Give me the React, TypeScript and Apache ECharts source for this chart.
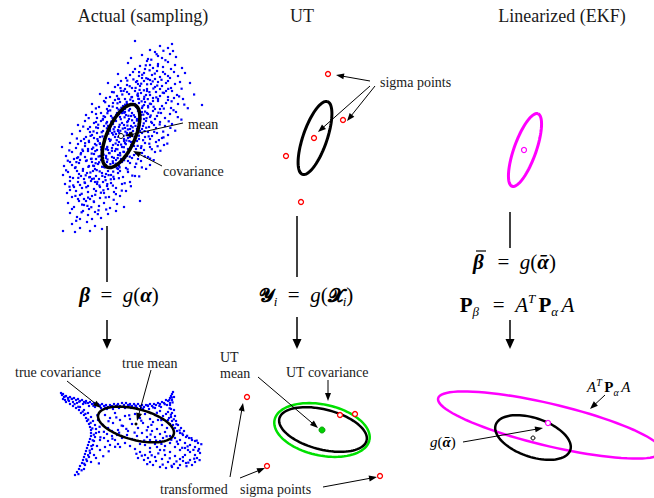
import React, { useEffect, useRef } from "react";
import * as echarts from "echarts";

// ---------- DATA (pixel-like diagram coordinates, y grows downward) ----------
const actualCloud: number[][] = [
  [135,41],[160,46],[168,48],[172,44],[150,50],
  [142,55],[155,52],[162,58],[170,54],[176,57],[148,59],[158,56],[131,58],[173,51],
  [128,63],[140,66],[147,61],[153,68],[158,64],[163,67],[168,62],[175,65],[135,69],[150,65],[171,69],[182,68],[145,69],
  [118,74],[126,78],[133,72],[139,76],[144,73],[148,79],[152,75],[157,71],[160,77],[165,74],[170,78],[174,72],[178,76],[130,75],[142,78],[155,79],[163,72],[168,76],[185,73],
  [108,83],[115,87],[121,81],[127,85],[132,88],[136,82],[140,86],[144,81],[147,89],[151,84],[155,87],[158,82],[162,86],[166,83],[171,88],[175,84],[180,82],[190,83],[125,89],[138,84],[150,80],[160,89],[168,81],[118,85],
  [100,94],[106,98],[112,92],[117,96],[121,91],[125,99],[129,94],[132,97],[135,91],[138,96],[141,93],[144,99],[147,91],[150,95],[153,98],[156,92],[160,96],[164,93],[168,97],[172,91],[177,95],[183,99],[119,99],[127,92],[139,99],[146,95],[158,99],[166,91],[110,97],[174,98],
  [92,104],[99,107],[104,101],[109,106],[113,103],[117,108],[120,102],[123,106],[127,104],[130,109],[133,101],[136,107],[139,103],[142,108],[145,102],[148,106],[151,104],[155,109],[158,101],[162,106],[166,103],[171,108],[178,104],[202,105],[115,100],[125,109],[135,104],[144,105],[153,101],[160,109],[107,109],[168,100],
  [86,115],[92,112],[97,118],[101,113],[105,117],[108,111],[111,116],[114,119],[117,113],[120,117],[123,111],[126,115],[129,119],[132,113],[135,117],[138,111],[141,115],[144,119],[147,113],[150,117],[153,111],[157,116],[161,113],[165,118],[170,114],[176,112],[103,119],[119,114],[131,116],[142,112],[155,119],[96,114],[125,112],[137,119],[148,114],
  [78,125],[85,121],[90,127],[94,123],[98,128],[101,121],[104,126],[107,122],[110,129],[113,124],[116,121],[119,127],[122,123],[125,128],[128,121],[131,126],[134,123],[137,129],[140,122],[143,126],[146,121],[149,127],[152,123],[156,128],[160,122],[165,126],[172,124],[96,122],[108,126],[118,130],[130,129],[142,129],[88,129],[154,125],[124,125],
  [72,134],[80,131],[86,137],[90,132],[94,138],[97,133],[100,137],[103,131],[106,136],[109,139],[112,133],[115,137],[118,131],[121,135],[124,139],[127,133],[130,137],[133,131],[136,136],[139,139],[142,133],[145,137],[148,132],[152,136],[157,133],[162,138],[168,135],[92,135],[104,139],[116,134],[128,138],[140,131],[84,139],[150,139],[110,131],
  [62,147],[70,143],[76,148],[81,141],[85,146],[89,142],[92,149],[95,144],[98,141],[101,147],[104,143],[107,148],[110,141],[113,145],[116,149],[119,142],[122,147],[125,143],[128,149],[131,142],[134,146],[137,141],[141,148],[145,143],[150,147],[156,142],[164,145],[88,149],[100,144],[112,148],[124,141],[136,149],[78,144],[118,145],
  [66,156],[72,152],[77,158],[81,153],[85,157],[88,151],[91,159],[94,154],[97,150],[100,156],[103,152],[106,158],[109,153],[112,157],[115,151],[118,155],[121,159],[124,152],[127,156],[130,150],[134,155],[138,159],[142,153],[148,157],[155,152],[83,151],[96,159],[108,150],[120,153],[132,158],[74,159],[144,150],
  [64,166],[70,162],[75,168],[79,163],[83,169],[86,161],[89,166],[92,162],[95,169],[98,164],[101,160],[104,167],[107,162],[110,168],[113,163],[116,160],[119,166],[122,162],[126,168],[130,163],[135,167],[141,161],[150,165],[80,160],[94,166],[106,165],[118,169],[72,165],[128,161],
  [63,175],[68,172],[73,178],[77,171],[81,176],[84,179],[87,173],[90,177],[93,171],[96,176],[99,179],[102,173],[105,177],[108,171],[111,175],[114,179],[118,173],[123,177],[128,172],[135,176],[79,174],[92,179],[106,174],[120,171],[70,177],
  [65,184],[70,181],[74,187],[78,182],[82,188],[85,183],[88,186],[91,181],[94,189],[97,184],[100,187],[103,182],[107,186],[111,183],[116,188],[122,184],[130,182],[80,185],[95,182],[108,189],
  [67,193],[72,197],[76,191],[80,195],[84,199],[88,192],[92,196],[96,191],[100,198],[104,193],[109,197],[114,192],[120,196],[126,191],[78,199],[90,199],[70,190],
  [68,203],[74,207],[79,201],[84,205],[89,209],[94,202],[99,206],[104,203],[110,208],[117,204],[140,201],[86,201],[72,209],[124,207],
  [70,213],[77,217],[83,211],[88,215],[95,212],[101,218],[108,214],[116,211],[80,219],[92,219],
  [63,231],[72,224],[80,228],[87,222],[95,226],[102,229],[75,232],[90,231]
];

const actualCloudExtra: number[][] = [
  [131.5,97.2],[137.8,93.6],[144.3,96.8],[126.7,101.9],[134.2,104.4],[141.6,101.3],[149.9,103.7],[121.4,107.8],[128.9,110.5],[137.3,108.1],[145.1,111.6],[116.2,114.9],[124.6,117.3],[133.8,115.2],[140.4,118.7],[150.7,115.5],[111.3,121.6],[119.7,124.8],[127.2,122.1],[135.5,125.9],[143.8,123.4],[106.9,128.3],[114.4,131.7],[122.8,128.6],[130.1,132.9],[138.6,130.2],[146.2,127.7],[102.5,136.4],[110.7,139.8],[118.3,136.9],[126.4,140.5],[134.7,137.1],[99.8,143.2],[107.2,146.9],[115.6,143.5],[123.9,147.2],[131.3,144.8],[95.3,151.1],[103.7,154.6],[111.9,150.8],[120.2,155.3],[128.5,152.4],[91.6,158.7],[99.1,162.3],[107.5,159.5],[115.8,163.8],[124.1,160.2],[88.4,166.9],[96.7,170.1],[104.9,167.4],[113.2,171.6],[85.7,175.3],[93.9,178.6],[102.3,175.9],
  [153.4,88.5],[147.1,84.3],[139.6,89.9],[162.8,92.7],[156.3,97.4],[129.7,86.2],[122.3,94.5],[117.5,103.3],[110.2,110.4],[103.6,116.2],[98.2,124.7],[93.5,131.4],[88.9,140.8],[82.4,149.6],[78.1,157.3],[75.6,167.2],[73.2,185.4],[81.7,193.8],[86.3,187.2],[99.4,185.5],[110.8,179.3],[118.9,178.2],[127.6,169.4],[136.2,163.7],[144.7,156.3],[151.8,149.2],[158.9,140.1],[163.2,131.6],[168.7,121.3],[173.5,110.2],[179.1,96.4],[181.6,88.7],
  [142.2,74.8],[149.6,70.3],[157.9,66.1],[165.4,60.2],[137.1,81.1],[127.3,80.6],[120.5,88.1],[113.8,92.3],[105.2,102.2],[95.9,108.4],[88.7,118.1],[83.2,126.6],[76.9,138.5],[69.3,150.4],[67.8,160.7],[66.1,170.3],[69.5,186.7],[75.4,195.9],[82.1,204.6],[91.3,207.2],[97.8,214.1],[106.2,209.5],[113.7,199.8],[121.8,190.6],[130.9,186.2],[139.2,176.4],[146.1,168.9],[153.7,160.1],[160.4,150.8],[167.3,143.6],[175.2,130.7],[181.4,119.6],[187.8,108.2],[194.1,94.5],
  [119.2,133.1],[123.6,135.8],[127.9,129.4],[116.8,140.2],[121.1,144.6],[129.3,141.1],[113.1,134.6],[125.4,131.7],[132.6,127.3],[136.9,120.6],[128.4,115.8],[120.8,119.2],[114.7,127.1],[108.3,133.7],[104.4,141.6],[109.6,153.2],[117.4,149.3],[125.8,144.1],[132.4,134.9],[139.5,125.2],[143.3,114.7],[148.1,107.4],[138.3,98.9],[131.6,104.9],[124.2,112.8],[118.6,109.6],[112.5,117.8],[106.3,123.4],[101.7,132.2],[97.4,139.1],[93.2,147.6],[98.6,156.5],[105.8,149.2],[113.9,157.9],[119.3,162.6],[110.4,164.1],[102.1,166.8],[95.6,163.2],[90.4,172.5],[99.7,171.4],[108.6,175.1],[116.9,168.2],
  [146.3,78.2],[152.7,81.4],[141.2,83.7],[135.6,87.9],[149.4,92.1],[143.9,90.3],[157.2,85.6],[161.5,79.8],[154.8,73.6],[137.4,95.2],[130.3,99.6],[125.1,104.7],[142.6,106.3],[147.8,99.1],[153.6,106.8],[158.4,112.7],[151.2,121.9],[146.5,118.2],[139.8,113.4],[132.1,120.3],[127.4,125.6],[121.9,113.1],[115.3,120.4],[109.1,125.9],[113.6,129.2],[120.3,130.8],[126.8,134.3],[133.2,141.6],[138.9,135.7],[144.6,131.1],[149.3,143.7],[141.4,146.2],[136.1,153.4],[129.8,156.7],[123.4,151.8],[117.7,158.1],[112.8,161.3],[106.1,155.9],[101.2,149.5],[96.4,145.2],[91.7,153.6],[86.8,160.4],[93.1,165.7],[89.2,177.3],[97.3,181.9],[105.6,180.2],[112.9,185.6],[103.4,190.3],[95.2,194.8],[88.1,197.6],[84.6,182.4],[78.3,177.9],[82.9,170.8],[76.4,162.1],[80.7,154.3],[85.1,143.2],[90.6,135.9],[96.1,127.4],[102.8,119.7],[107.4,113.2],[112.7,106.6],[118.1,98.7],[123.6,90.9],[133.4,79.4],[139.1,72.1],[145.8,65.3],[151.3,59.7],[156.6,54.2],[163.4,50.8],
  [168.2,88.9],[171.6,101.3],[163.8,108.6],[159.7,124.4],[154.2,131.8],[148.7,136.4],[143.1,140.2],[137.7,145.9],[130.6,147.3],[125.2,157.6],[119.6,167.3],[113.4,176.8],[107.3,184.1],[100.9,192.7],[93.8,201.4],[87.4,205.9],[81.6,212.3],[76.2,220.8],[98.5,210.3],[105.7,197.4],[115.9,194.1],[124.7,183.2],[132.3,175.6],[141.9,167.4],[150.1,158.6],[157.6,146.2],[163.5,137.4],[170.4,127.9],[177.8,117.1],[184.3,104.6]
];

const transformedCloud: number[][] = [
  [61,393],[63,394],[62,395],[64,397],[66,396],[68,398],[70,397],[72,399],[74,398],[76,400],[78,399],[80,401],[82,400],[84,402],[86,401],[88,403],[90,402],[92,404],[94,403],[96,405],[98,404],[100,406],[102,404],[104,406],[106,405],[108,407],[110,405],[112,407],[114,404],[116,406],[118,404],[120,406],[122,403],[124,405],[126,403],[128,405],[130,404],[132,406],[134,404],[136,406],[138,404],[140,406],[142,405],[144,407],[146,405],[148,406],[150,404],[152,406],[154,404],[156,405],[158,403],[160,404],[162,402],[164,403],[166,400],[168,401],[170,398],[171,396],[172,394],[173,392],[174,397],
  [65,400],[69,401],[73,402],[77,403],[83,404],[89,406],[95,407],[101,408],[107,409],[113,409],[119,408],[125,408],[131,408],[137,408],[143,409],[149,409],[155,408],[161,407],[167,405],[170,403],[172,400],
  [63,399],[66,402],[70,404],[73,406],[76,408],[79,410],[81,413],[84,415],[86,418],[87,421],[89,424],[90,427],[91,430],[91,433],[91,436],[90,439],[89,442],[88,445],[87,448],[86,451],[85,454],[84,457],[83,460],[82,463],[80,466],[79,469],[77,472],[75,475],
  [80,407],[84,410],[88,413],[91,417],[93,421],[95,425],[96,429],[96,433],[95,437],[94,441],[93,445],[92,449],[90,453],[89,457],[87,461],[85,465],[84,469],[98,420],[99,432],[97,446],[94,455],[91,462],
  [100,440],[104,438],[108,441],[112,436],[105,447],[110,445],[115,440],[118,444],[100,450],[96,458],
  [105,415],[110,418],[115,413],[120,420],[125,416],[130,419],[135,414],[140,418],[145,414],[150,419],[155,415],[160,411],[103,425],[108,428],[113,423],[118,430],[123,426],[128,431],[132,424],[138,428],[143,423],[148,427],[153,422],[158,420],[163,416],[166,414],[107,434],[112,431],[117,435],[122,438],[127,435],[132,439],[137,436],[142,433],[147,437],[152,431],[157,429],[162,425],[168,420],[125,443],[130,446],[135,449],[140,444],[120,447],
  [170,405],[171,409],[172,413],[171,417],[172,421],[173,425],[175,428],[177,431],[180,433],[183,435],[186,437],[189,438],[192,440],[195,441],[198,443],[174,410],[175,416],[176,421],[178,425],[181,428],[184,431],[168,412],[169,418],[170,424],[167,428],
  [150,440],[155,437],[160,434],[165,432],[170,436],[175,438],[180,440],[185,443],[190,445],[195,447],[199,449],[145,445],[150,448],[155,444],[160,441],[165,446],[170,443],[175,447],[180,450],[185,448],[190,452],[195,455],[200,453],[140,452],[145,455],[150,452],[155,457],[160,450],[165,455],[170,452],[175,456],[180,459],[185,455],[190,460],[195,462],[138,458],[144,460],[150,462],[156,461],[162,459],[168,462],[174,464],[180,465],[186,463],[192,465],[160,467],[166,468],[172,467],[178,468],[153,465],[148,458],[157,447],[163,438],[178,444],[188,450],[197,458],[183,461]
];

const transformedCloudExtra: number[][] = [
  [65.3,396.4],[71.8,398.9],[79.2,401.7],[85.6,403.1],[93.4,405.8],[99.7,405.2],[105.3,407.6],[111.8,406.1],[117.2,405.4],[123.5,406.9],[129.7,404.8],[135.4,405.6],[141.2,407.8],[147.6,405.3],[153.2,407.4],[159.4,405.9],[164.8,404.2],[169.3,400.1],[171.8,397.6],[172.6,402.4],
  [68.2,399.7],[74.6,404.1],[78.3,406.8],[82.7,411.6],[85.4,413.9],[88.2,419.6],[90.6,422.8],[92.3,428.4],[93.8,434.7],[92.7,440.3],[91.4,446.1],[89.7,450.6],[88.1,455.2],[86.3,459.4],[84.2,463.7],[81.6,470.3],[78.4,474.1],[97.3,415.2],[99.6,426.8],[100.4,437.3],
  [108.5,421.2],[116.3,417.4],[121.7,425.6],[129.2,415.3],[134.6,432.6],[141.3,420.7],[146.8,430.3],[151.4,424.9],[156.9,412.8],[161.3,420.1],[112.4,438.7],[119.1,432.7],[126.3,428.9],[103.9,431.8],[144.2,440.5],[150.6,434.5],[115.1,446.8],[108.7,451.3],[103.2,456.2],[98.9,463.4],
  [169.6,408.3],[170.9,414.7],[173.8,419.3],[176.4,424.2],[179.6,430.4],[182.3,433.6],[187.1,435.8],[191.4,438.1],[196.7,440.6],[201.3,444.2],[198.2,450.8],[193.4,449.9],[187.6,446.4],[182.2,447.8],[176.9,441.6],[171.3,439.8],[166.6,436.3],[161.4,443.9],[156.1,440.6],[151.7,455.3],[158.3,453.4],[164.2,450.2],[169.8,458.3],[176.5,461.4],[182.9,457.1],[188.3,462.6],[194.2,458.7],[199.6,460.1],[147.2,464.1],[141.8,455.7],[136.4,453.8],[162.7,464.6],[171.6,465.8],[186.5,466.2]
];

const actualMean: number[][] = [[121, 136]];
const sigmaPoints: number[][] = [[328,74],[343,120],[314,138],[286,156],[301,202]];
const ekfMeanTop: number[][] = [[524,150]];
const trueMean: number[][] = [[136,424]];
const transformedSigma: number[][] = [[247,397],[340,415],[355,414],[267,466],[380,476]];
const utMean: number[][] = [[322,430]];
const ekfMeanBottom: number[][] = [[548,423]];
const ekfTrueMean: number[][] = [[533,438]];

// ellipses: [cx, cy, semi-major, semi-minor, tilt in degrees]
const actualCov: number[][] = [[121,136,34,14,66]];
const sigmaCov: number[][] = [[315,138,38.5,12,71]];
const ekfCovTop: number[][] = [[525,150,38.5,11,70.4]];
const trueCov: number[][] = [[136,424.5,39,15.5,-14.4]];
const utTrueCov: number[][] = [[323,429.5,45,20,-14.3]];
const utCov: number[][] = [[322,430,48.5,25.5,-12]];
const ekfCovBottom: number[][] = [[550,425,115,21,-13.4]];
const ekfTrueCov: number[][] = [[533,437.5,39.4,19.4,-18.8]];

// arrows: [x1, y1, x2, y2]
const labelArrows: number[][] = [
  [183,123,125,136],[162,166,133,151],
  [370,81,336,75],[370,86,318,132],[375,86,347,121],
  [67,381,101,408],[151,370,137,421],
  [258,377,318,428],[328,380,328,401],
  [230,477,243,403],[240,478,265,468],[323,487,377,477],
  [605,395,590,409],[463,442,543,428]
];
const flowLines: number[][] = [[107,226,107,282],[297,216,297,277],[510,212,510,248]];
const flowArrows: number[][] = [[107,320,107,349],[297,317,297,349],[510,320,510,349]];
// short over-bar (for the β̄ in the EKF formula)
const overBars: number[][] = [[476,251,486,251]];

const titles = ["Actual (sampling)", "UT", "Linearized (EKF)"];

// ---------- helpers ----------
function ellipseSeries(data: number[][], color: string, lw: number) {
  return {
    type: "custom",
    data,
    clip: false,
    silent: true,
    z: 5,
    renderItem: (params: any, api: any) => {
      const cx = api.value(0), cy = api.value(1), a = api.value(2), b = api.value(3);
      const th = (api.value(4) * Math.PI) / 180;
      const pts: number[][] = [];
      for (let k = 0; k <= 90; k++) {
        const t = (k / 90) * Math.PI * 2;
        const x = cx + a * Math.cos(t) * Math.cos(th) + b * Math.sin(t) * Math.sin(th);
        const y = cy - a * Math.cos(t) * Math.sin(th) + b * Math.sin(t) * Math.cos(th);
        pts.push(api.coord([x, y]));
      }
      return { type: "polyline", shape: { points: pts }, style: { fill: "none", stroke: color, lineWidth: lw } };
    },
  };
}

function arrowSeries(data: number[][], lw: number, hl: number, hw: number) {
  return {
    type: "custom",
    data,
    clip: false,
    silent: true,
    z: 6,
    renderItem: (params: any, api: any) => {
      const p1 = api.coord([api.value(0), api.value(1)]);
      const p2 = api.coord([api.value(2), api.value(3)]);
      const dx = p2[0] - p1[0], dy = p2[1] - p1[1];
      const len = Math.sqrt(dx * dx + dy * dy) || 1;
      const ux = dx / len, uy = dy / len;
      const nx = -uy, ny = ux;
      const children: any[] = [];
      const endX = hl > 0 ? p2[0] - ux * hl * 0.7 : p2[0];
      const endY = hl > 0 ? p2[1] - uy * hl * 0.7 : p2[1];
      children.push({ type: "line", shape: { x1: p1[0], y1: p1[1], x2: endX, y2: endY }, style: { stroke: "#000", lineWidth: lw } });
      if (hl > 0) {
        children.push({
          type: "polygon",
          shape: { points: [[p2[0], p2[1]], [p2[0] - ux * hl + nx * hw, p2[1] - uy * hl + ny * hw], [p2[0] - ux * hl - nx * hw, p2[1] - uy * hl - ny * hw]] },
          style: { fill: "#000" },
        });
      }
      return { type: "group", children };
    },
  };
}

function pointSeries(data: number[][], symbol: string, size: number, color: string, fill: string, bw: number, z = 8) {
  return {
    type: "scatter",
    data,
    symbol,
    symbolSize: size,
    silent: true,
    z,
    itemStyle: { color: fill, borderColor: color, borderWidth: bw, opacity: 1 },
  };
}

const SERIF = "'Liberation Serif', 'DejaVu Serif', serif";
const MATH = "'Liberation Serif', 'DejaVu Serif', serif";

function label(text: string, x: number, y: number, size = 14, align = "left") {
  return {
    type: "text",
    x, y, z: 20,
    style: { text, fontFamily: SERIF, fontSize: size, fill: "#1a1a1a", align, textAlign: align, verticalAlign: "middle", textVerticalAlign: "middle" },
  };
}

const mathRich = {
  n: { fontFamily: MATH, fontSize: 21, lineHeight: 26, fill: "#000" },
  eq: { fontFamily: MATH, fontSize: 21, lineHeight: 26, fill: "#000" },
  i: { fontFamily: MATH, fontSize: 21, fontStyle: "italic", lineHeight: 26, fill: "#000" },
  bi: { fontFamily: MATH, fontSize: 21, fontStyle: "italic", fontWeight: "bold", lineHeight: 26, fill: "#000" },
  bp: { fontFamily: MATH, fontSize: 21, fontWeight: "bold", lineHeight: 26, fill: "#000" },
  cal: { fontFamily: "'DejaVu Sans', 'Noto Sans', serif", fontSize: 19, fontWeight: "bold", lineHeight: 26, fill: "#000" },
  sub: { fontFamily: MATH, fontSize: 13, fontStyle: "italic", lineHeight: 15, verticalAlign: "bottom", fill: "#000" },
  sup: { fontFamily: MATH, fontSize: 13, fontStyle: "italic", lineHeight: 15, verticalAlign: "top", fill: "#000" },
  s: { fontFamily: MATH, fontSize: 15, fontStyle: "italic", lineHeight: 20, fill: "#000" },
  sbi: { fontFamily: MATH, fontSize: 15, fontStyle: "italic", fontWeight: "bold", lineHeight: 20, fill: "#000" },
  sn: { fontFamily: MATH, fontSize: 15, lineHeight: 20, fill: "#000" },
  sbp: { fontFamily: MATH, fontSize: 15, fontWeight: "bold", lineHeight: 20, fill: "#000" },
  ssub: { fontFamily: MATH, fontSize: 10, fontStyle: "italic", lineHeight: 11, verticalAlign: "bottom", fill: "#000" },
  ssup: { fontFamily: MATH, fontSize: 10, fontStyle: "italic", lineHeight: 11, verticalAlign: "top", fill: "#000" },
};

function math(text: string, x: number, y: number, align = "center") {
  return {
    type: "text",
    x, y, z: 20,
    style: { text, rich: mathRich, align, textAlign: align, verticalAlign: "middle", textVerticalAlign: "middle" },
  };
}

export default function App() {
  const ref = useRef<HTMLDivElement>(null);
  useEffect(() => {
    document.body.style.margin = "0";
    const chart = echarts.init(ref.current as HTMLDivElement, null, { renderer: "svg" });
    const option: any = {
      animation: false,
      backgroundColor: "#ffffff",
      grid: { left: 0, right: 0, top: 0, bottom: 0 },
      xAxis: { type: "value", min: 0, max: 654, show: false },
      yAxis: { type: "value", min: 0, max: 498, inverse: true, show: false },
      series: [
        pointSeries(actualCloud, "rect", 2.2, "#0000ff", "#0000ff", 0, 2),
        pointSeries(actualCloudExtra, "rect", 2.2, "#0000ff", "#0000ff", 0, 2),
        pointSeries(transformedCloud, "rect", 2.2, "#0000ff", "#0000ff", 0, 2),
        pointSeries(transformedCloudExtra, "rect", 2.2, "#0000ff", "#0000ff", 0, 2),
        ellipseSeries(actualCov, "#000000", 3.5),
        ellipseSeries(sigmaCov, "#000000", 3),
        ellipseSeries(ekfCovTop, "#ff00ff", 3),
        ellipseSeries(trueCov, "#000000", 2.5),
        ellipseSeries(utCov, "#00e000", 2.5),
        ellipseSeries(utTrueCov, "#000000", 2.5),
        ellipseSeries(ekfCovBottom, "#ff00ff", 2.5),
        ellipseSeries(ekfTrueCov, "#000000", 2.5),
        arrowSeries(labelArrows, 1, 8, 3),
        arrowSeries(flowLines, 1.5, 0, 0),
        arrowSeries(flowArrows, 1.5, 10, 4.5),
        arrowSeries(overBars, 1.2, 0, 0),
        pointSeries(actualMean, "circle", 5, "#000000", "#ffffff", 1),
        pointSeries(sigmaPoints, "circle", 5, "#ff0000", "#ffffff", 1.3),
        pointSeries(ekfMeanTop, "circle", 5, "#ff00ff", "#ffffff", 1.2),
        pointSeries(trueMean, "circle", 3, "#000000", "#000000", 0),
        pointSeries(transformedSigma, "circle", 5, "#ff0000", "#ffffff", 1.3),
        pointSeries(utMean, "circle", 6, "#00a000", "#00d000", 1),
        pointSeries(ekfMeanBottom, "circle", 5, "#ff00ff", "#ffffff", 1.2),
        pointSeries(ekfTrueMean, "circle", 4, "#000000", "#ffffff", 1),
      ],
      graphic: [
        label(titles[0], 143, 16, 18, "center"),
        label(titles[1], 302, 16, 18, "center"),
        label(titles[2], 562, 16, 18, "center"),
        label("mean", 188, 124),
        label("covariance", 163, 171),
        label("sigma points", 380, 82),
        label("true covariance", 15, 372),
        label("true mean", 122, 363),
        label("UT", 220, 357),
        label("mean", 220, 373),
        label("UT covariance", 286, 372),
        label("transformed", 160, 489),
        label("sigma points", 240, 489),
        math("{bi|β}{eq|  =  }{i|g}{n|(}{bi|α}{n|)}", 119, 295),
        math("{cal|𝓨}{sub|i}{eq|  =  }{i|g}{n|(}{cal|𝓧}{sub|i}{n|)}", 306, 295),
        math("{bi|β}", 473, 262, "left"),
        math("{eq|  =  }{i|g}{n|(}{bi|ᾱ}{n|)}", 487, 262, "left"),
        math("{bp|P}{sub|β }{eq|  =  }{i|A}{sup|T }{bp|P}{sub|α }{i|A}", 517, 305),
        math("{s|g}{sn|(}{sbi|ᾱ}{sn|)}", 430, 442, "left"),
        math("{s|A}{ssup|T }{sbp|P}{ssub|α }{s|A}", 587, 387, "left"),
      ],
    };
    chart.setOption(option);
    return () => chart.dispose();
  }, []);
  return <div ref={ref} style={{ width: 654, height: 498 }} />;
}
